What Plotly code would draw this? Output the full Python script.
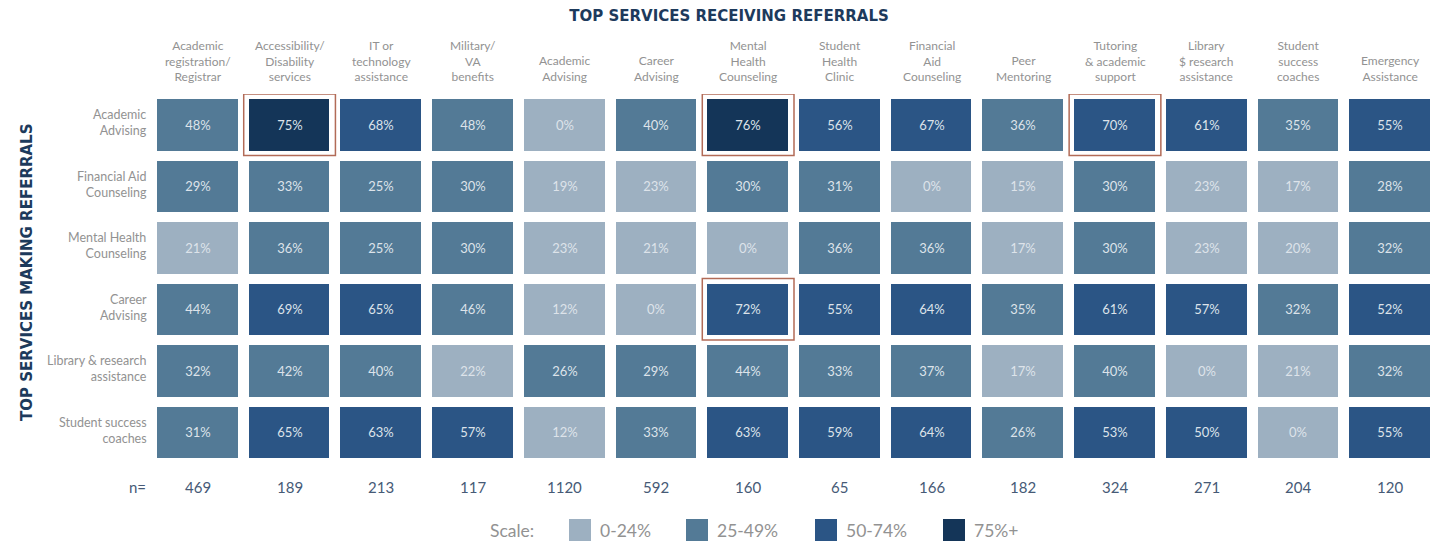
import plotly.graph_objects as go

# services receiving referrals (columns)
receiving = ["Academic<br>registration/<br>Registrar", "Accessibility/<br>Disability<br>services",
             "IT or<br>technology<br>assistance", "Military/<br>VA<br>benefits",
             "Academic<br>Advising", "Career<br>Advising", "Mental<br>Health<br>Counseling",
             "Student<br>Health<br>Clinic", "Financial<br>Aid<br>Counseling", "Peer<br>Mentoring",
             "Tutoring<br>& academic<br>support", "Library<br>$ research<br>assistance",
             "Student<br>success<br>coaches", "Emergency<br>Assistance"]

# services making referrals (rows)
making = ["Academic<br>Advising", "Financial Aid<br>Counseling", "Mental Health<br>Counseling",
          "Career<br>Advising", "Library & research<br>assistance", "Student success<br>coaches"]

academic_advising = [48, 75, 68, 48, 0, 40, 76, 56, 67, 36, 70, 61, 35, 55]
financial_aid = [29, 33, 25, 30, 19, 23, 30, 31, 0, 15, 30, 23, 17, 28]
mental_health = [21, 36, 25, 30, 23, 21, 0, 36, 36, 17, 30, 23, 20, 32]
career_advising = [44, 69, 65, 46, 12, 0, 72, 55, 64, 35, 61, 57, 32, 52]
library_research = [32, 42, 40, 22, 26, 29, 44, 33, 37, 17, 40, 0, 21, 32]
success_coaches = [31, 65, 63, 57, 12, 33, 63, 59, 64, 26, 53, 50, 0, 55]

n_values = [469, 189, 213, 117, 1120, 592, 160, 65, 166, 182, 324, 271, 204, 120]

# highlighted cells (row, column)
highlights = [(0, 1), (0, 6), (0, 10), (3, 6)]

scale_labels = ["0-24%", "25-49%", "50-74%", "75%+"]
scale_colors = ["#9db0c1", "#537a96", "#2b5585", "#143558"]

rows = [academic_advising, financial_aid, mental_health, career_advising, library_research, success_coaches]

W, H = 1439, 543
L, R, T, B = 152, 3, 94, 80
pw = W - L - R
ph = H - T - B

def px_x(p):
    return (p - L) / pw

def px_y(p):
    return (H - B - p) / ph

z = [[min(v // 25, 3) for v in r] for r in rows]
txt = [[str(v) + "%" for v in r] for r in rows]

cs = []
for i, c in enumerate(scale_colors):
    cs.append([i / 4, c])
    cs.append([(i + 1) / 4, c])

fig = go.Figure()
fig.add_trace(go.Heatmap(
    z=z, x=list(range(len(receiving))), y=list(range(len(making))),
    text=txt, texttemplate="%{text}",
    textfont=dict(family="Lato", size=13, color="#dde3ea"),
    colorscale=cs, zmin=-0.5, zmax=3.5, showscale=False,
    xgap=11, ygap=10, hoverinfo="skip"))

shapes = []
for r, c in highlights:
    shapes.append(dict(type="rect", xref="x", yref="y", x0=c - 0.5, x1=c + 0.5,
                       y0=r - 0.5, y1=r + 0.5, line=dict(color="#b26b57", width=1.5)))

ann = []
gray = "#929292"
# column headers
for i, h in enumerate(receiving):
    ann.append(dict(x=i, xref="x", y=1, yref="paper", text=h, showarrow=False,
                    yanchor="bottom", yshift=8,
                    font=dict(family="Lato", size=12, color=gray)))
# row labels
for j, rl in enumerate(making):
    ann.append(dict(x=0, xref="paper", y=j, yref="y", text=rl, showarrow=False, align="right",
                    xanchor="right", yanchor="middle", xshift=-3, yshift=2,
                    font=dict(family="Lato", size=12.5, color=gray)))
# n= row
navy = "#465a76"
ann.append(dict(x=0, xref="paper", y=0, yref="paper", text="n=", showarrow=False,
                xanchor="right", yanchor="middle", xshift=-4, yshift=-24,
                font=dict(family="Lato", size=15, color=navy)))
for i, n in enumerate(n_values):
    ann.append(dict(x=i, xref="x", y=0, yref="paper", text=str(n), showarrow=False,
                    yanchor="middle", yshift=-24,
                    font=dict(family="Lato", size=15, color=navy)))
# axis title on the left
ann.append(dict(x=px_x(16), xref="paper", y=px_y(273), yref="paper",
                text="<b>TOP SERVICES MAKING REFERRALS</b>", textangle=-90, showarrow=False,
                font=dict(family="DejaVu Sans", size=15, color="#1d3a5c")))

# scale legend
ann.append(dict(x=px_x(536), xref="paper", y=px_y(530), yref="paper", text="Scale:",
                showarrow=False, xanchor="right", yanchor="middle",
                font=dict(family="Lato", size=17.5, color=gray)))
sq_left = [569, 686, 815, 943]
for lab, col, x0 in zip(scale_labels, scale_colors, sq_left):
    shapes.append(dict(type="rect", xref="paper", yref="paper", x0=px_x(x0), x1=px_x(x0 + 22),
                       y0=px_y(541), y1=px_y(519), fillcolor=col, line=dict(width=0)))
    ann.append(dict(x=px_x(x0 + 29), xref="paper", y=px_y(530), yref="paper", text=lab,
                    showarrow=False, xanchor="left", yanchor="middle",
                    font=dict(family="Lato", size=17.5, color=gray)))

fig.update_layout(
    width=W, height=H,
    margin=dict(l=L, r=R, t=T, b=B),
    plot_bgcolor="white", paper_bgcolor="white",
    title=dict(text="<b>TOP SERVICES RECEIVING REFERRALS</b>", x=729 / W, xref="container",
               xanchor="center", y=1 - 16 / H, yanchor="middle",
               font=dict(family="DejaVu Sans", size=15, color="#1d3a5c")),
    xaxis=dict(range=[-0.5, len(receiving) - 0.5], showticklabels=False, showgrid=False,
               zeroline=False, fixedrange=True),
    yaxis=dict(range=[len(making) - 0.5, -0.5], showticklabels=False, showgrid=False,
               zeroline=False, fixedrange=True),
    shapes=shapes, annotations=ann,
)

fig.write_html("out.html", config={"displayModeBar": False},
               post_script="document.body.style.margin='0px';")
